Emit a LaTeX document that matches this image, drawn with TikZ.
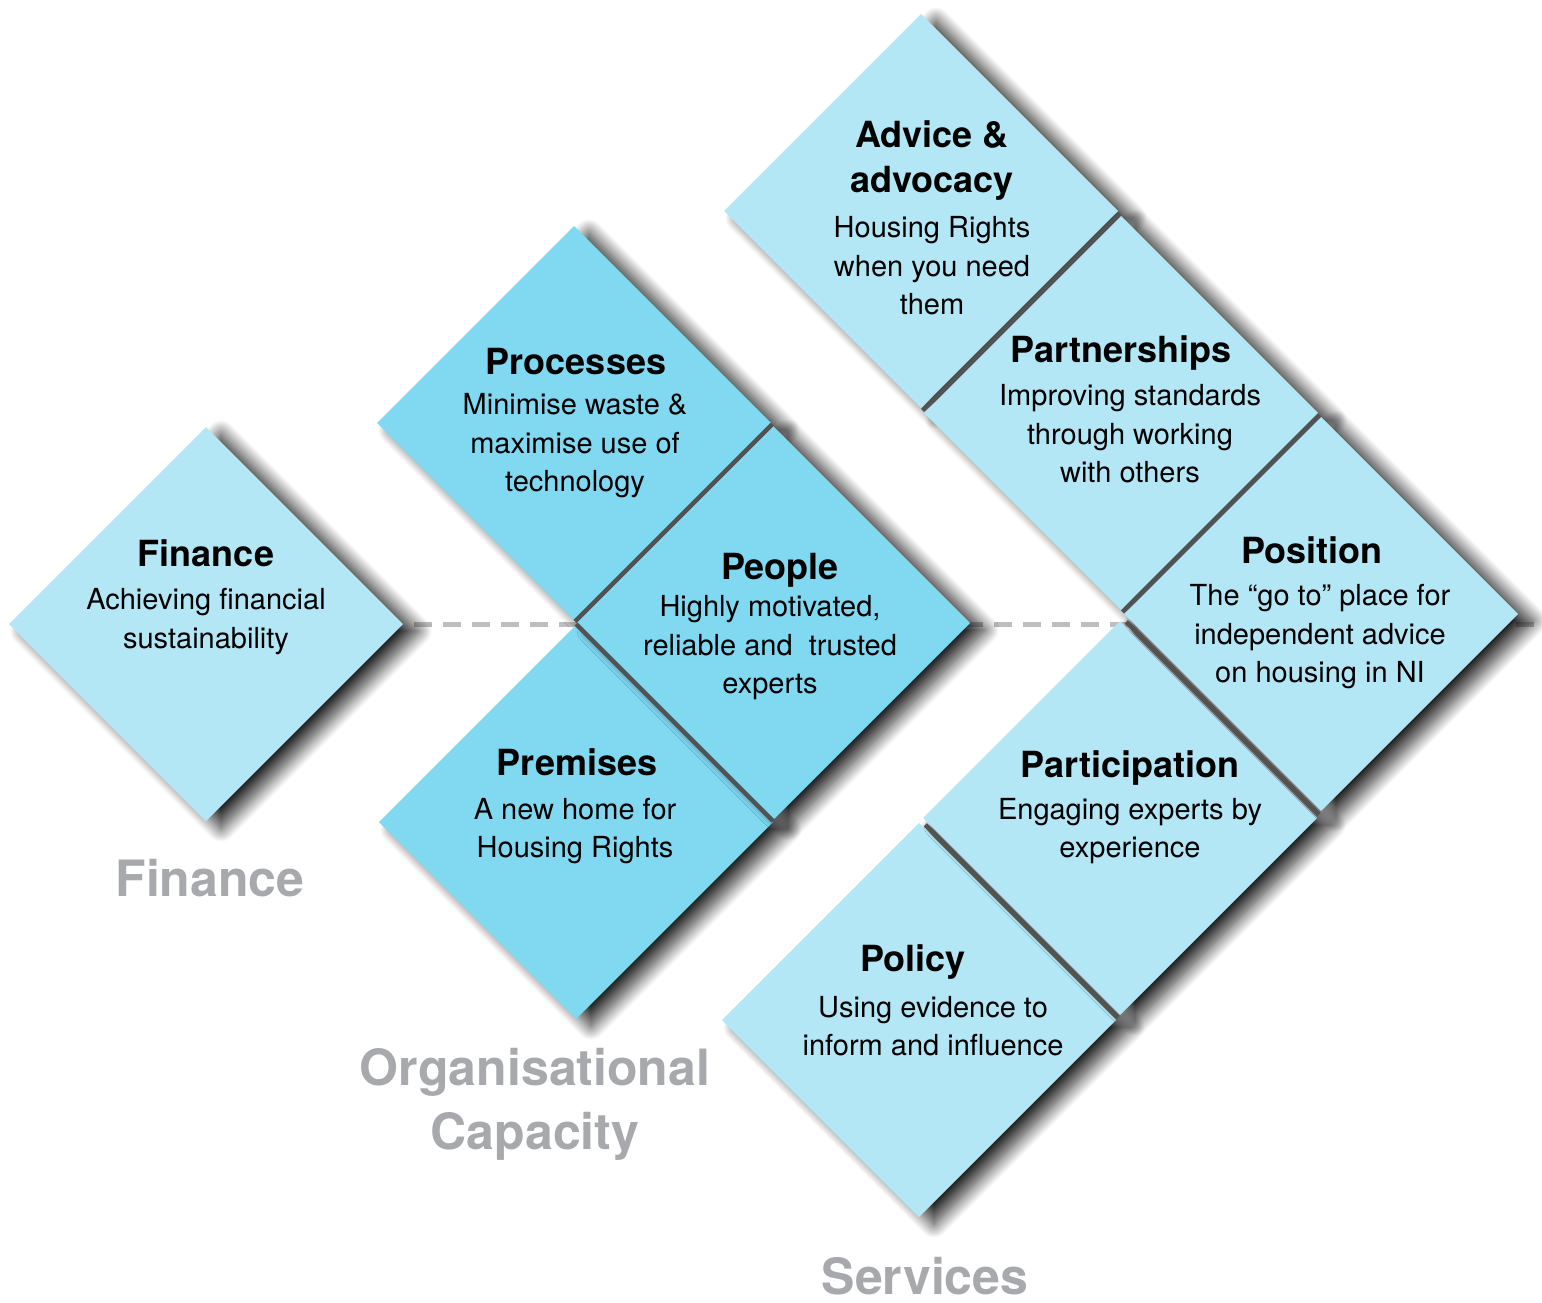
\documentclass[tikz,border=0pt]{standalone}
\usepackage{fontspec}
\setmainfont{TeX Gyre Heros}
\usetikzlibrary{shapes.geometric,shadows.blur,calc}
\definecolor{tilelight}{RGB}{179,231,245}
\definecolor{tiledark}{RGB}{128,216,241}
\definecolor{catgray}{RGB}{167,169,172}
\definecolor{seamgray}{RGB}{82,82,82}
\definecolor{dashgray}{RGB}{190,190,190}
\tikzset{
  tile/.style={diamond, minimum width=394pt, minimum height=394pt, inner sep=0pt, outer sep=0pt,
    blur shadow={shadow xshift=15pt, shadow yshift=-7pt, shadow blur radius=14pt,
      shadow blur steps=20, shadow opacity=85}},
  headtxt/.style={font=\fontsize{36}{45}\selectfont\bfseries, align=center, inner sep=0pt},
  bodytxt/.style={font=\fontsize{29}{38.5}\selectfont, align=center, inner sep=0pt},
  cattxt/.style={font=\fontsize{50}{64}\selectfont\bfseries, text=catgray, align=center, inner sep=0pt},
  seam/.style={draw=seamgray, line width=4.5pt},
  midline/.style={draw=dashgray, line width=5pt, dash pattern=on 18pt off 11pt}
}

\begin{document}
\begin{tikzpicture}[x=1pt, y=-1pt]
    \useasboundingbox (0,0) rectangle (1542,1303);

    % dashed middle line
    \coordinate (midL) at (414,624);
    \coordinate (midR) at (1542,624);
    \draw[midline] (midL) -- (midR);

    % Finance
    \node[tile, fill=tilelight] (finance) at (206,624) {};

    % Organisational capacity
    \node[tile, fill=tiledark] (processes) at (574,423) {};
    \node[tile, fill=tiledark] (premises) at (576,822) {};
    \node[tile, fill=tiledark] (people) at (773,623) {};

    % Services
    \node[tile, fill=tilelight] (advice) at (921,211) {};
    \node[tile, fill=tilelight] (partner) at (1121,413) {};
    \node[tile, fill=tilelight] (policy) at (919,1020) {};
    \node[tile, fill=tilelight] (particip) at (1120,818) {};
    \node[tile, fill=tilelight] (position) at (1321,614) {};

    % seams between tiles
    \draw[seam] ($(processes.east)!.5!(people.north)$) -- ($(processes.south)!.5!(people.west)$);
    \draw[seam] ($(premises.north)!.5!(people.west)$) -- ($(premises.east)!.5!(people.south)$);
    \draw[seam] ($(advice.east)!.5!(partner.north)$) -- ($(advice.south)!.5!(partner.west)$);
    \draw[seam] ($(partner.east)!.5!(position.north)$) -- ($(partner.south)!.5!(position.west)$);
    \draw[seam, shorten <=6pt] ($(particip.north)!.5!(position.west)$) -- ($(particip.east)!.5!(position.south)$);
    \draw[seam, shorten <=6pt] ($(policy.north)!.5!(particip.west)$) -- ($(policy.east)!.5!(particip.south)$);

    % texts
    \node[headtxt] (financeH) at (206,553) {Finance};
    \node[bodytxt] (financeB) at (206,621.5) {Achieving financial\\sustainability};

    \node[headtxt] (processesH) at (576,362) {Processes};
    \node[bodytxt] (processesB) at (575,446) {Minimise waste \&\\maximise use of\\technology};

    \node[headtxt] (peopleH) at (780,570) {People};
    \node[bodytxt] (peopleB) at (770,648) {Highly motivated,\\reliable and\ \ trusted\\experts};

    \node[headtxt] (premisesH) at (577,762) {Premises};
    \node[bodytxt] (premisesB) at (575,831) {A new home for\\Housing Rights};

    \node[headtxt] (adviceH) at (932,160.5) {Advice \&\\advocacy};
    \node[bodytxt] (adviceB) at (932,266) {Housing Rights\\when you need\\them};

    \node[headtxt] (partnerH) at (1121,353) {Partnerships};
    \node[bodytxt] (partnerB) at (1130,434) {Improving standards\\through working\\with others};

    \node[headtxt] (positionH) at (1312,550) {Position};
    \node[bodytxt] (positionB) at (1320,637) {The “go to” place for\\independent advice\\on housing in NI};

    \node[headtxt] (participH) at (1130,768) {Participation};
    \node[bodytxt] (participB) at (1130,831) {Engaging experts by\\experience};

    \node[headtxt] (policyH) at (913,962) {Policy};
    \node[bodytxt] (policyB) at (933,1026) {Using evidence to\\inform and influence};

    % categories
    \node[cattxt] (catFinance) at (210,878) {Finance};
    \node[cattxt] (catOrg) at (535,1104) {Organisational\\Capacity};
    \node[cattxt] (catServices) at (925,1276) {Services};
\end{tikzpicture}
\end{document}
